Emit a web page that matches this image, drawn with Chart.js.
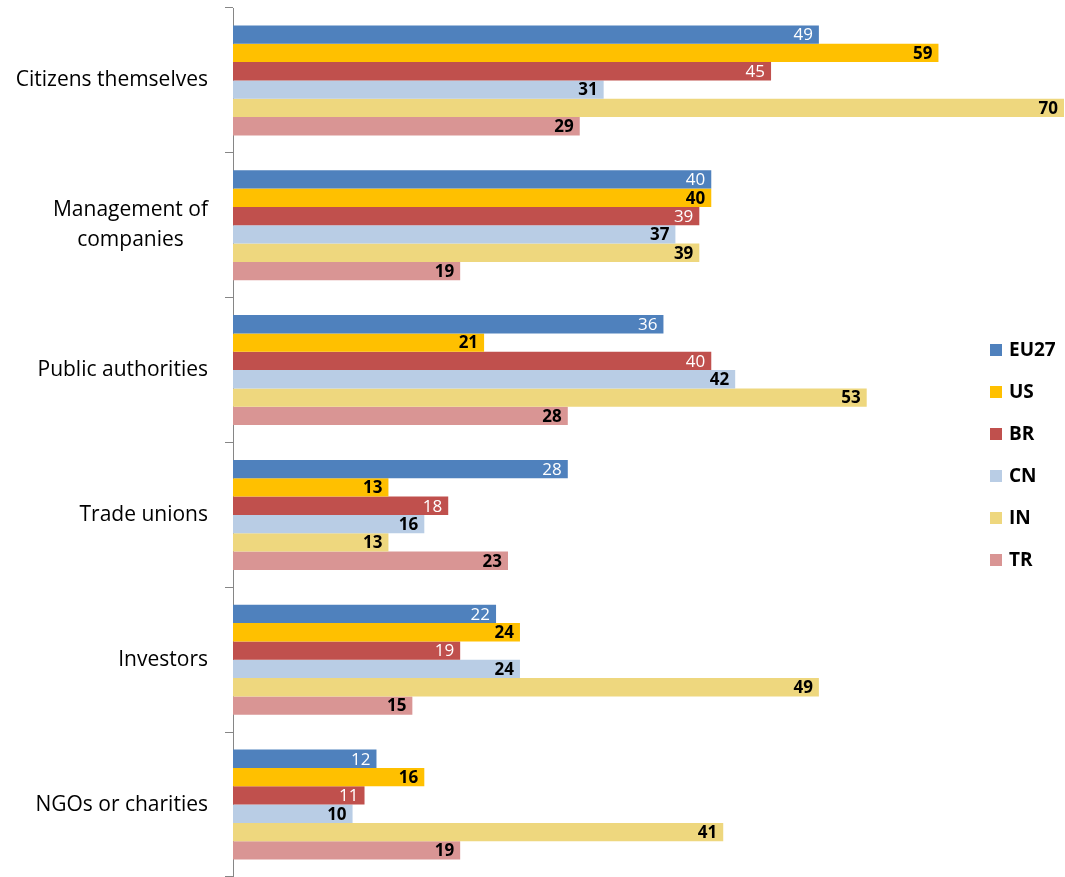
<!DOCTYPE html>
<html>
<head>
<meta charset="utf-8">
<script src="https://cdn.jsdelivr.net/npm/chart.js@4"></script>
<style>
  body { margin: 0; background: #fff; }
  #wrap { position: relative; width: 1065px; height: 877px; }
  #legend { position: absolute; left: 990px; top: 336px; font: bold 19px "Open Sans", sans-serif; color: #000; }
  #legend div { height: 42px; display: flex; align-items: flex-start; }
  #legend span.sw { display: inline-block; width: 12px; height: 12px; margin: 8px 7px 0 0; }
</style>
</head>
<body>
<div id="wrap">
  <canvas id="chart" width="1065" height="877"></canvas>
  <div id="legend"></div>
</div>
<script>
const categories = [['Citizens themselves'], ['Management of', 'companies'], ['Public authorities'], ['Trade unions'], ['Investors'], ['NGOs or charities']];
const seriesNames = ['EU27', 'US', 'BR', 'CN', 'IN', 'TR'];
const eu27 = [49, 40, 36, 28, 22, 12];
const us = [59, 40, 21, 13, 24, 16];
const br = [45, 39, 40, 18, 19, 11];
const cn = [31, 37, 42, 16, 24, 10];
const ind = [70, 39, 53, 13, 49, 41];
const tr = [29, 19, 28, 23, 15, 19];

const colors = ['#4F81BD', '#FFC000', '#C0504D', '#B9CDE5', '#EED77E', '#D99594'];
const labelColors = ['#fff', '#000', '#fff', '#000', '#000', '#000'];
const values = [eu27, us, br, cn, ind, tr];

// value labels inside the end of each bar
const valueLabels = {
  id: 'valueLabels',
  afterDatasetsDraw(chart) {
    const ctx = chart.ctx;
    ctx.save();
    ctx.textAlign = 'right';
    ctx.textBaseline = 'middle';
    chart.data.datasets.forEach((ds, i) => {
      const white = labelColors[i] === '#fff';
      ctx.font = (white ? '' : 'bold ') + '17px "Open Sans", sans-serif';
      ctx.fillStyle = labelColors[i];
      chart.getDatasetMeta(i).data.forEach((bar, j) => {
        ctx.fillText(String(ds.data[j]), Math.min(bar.x, chart.chartArea.right) - 6, bar.y + 1);
      });
    });
    ctx.restore();
  }
};

// category labels, lines centred on each other, block right-aligned
const catLabels = {
  id: 'catLabels',
  afterDraw(chart) {
    const ctx = chart.ctx;
    const yScale = chart.scales.y;
    ctx.save();
    ctx.font = '21px "Open Sans", sans-serif';
    ctx.fillStyle = '#000';
    ctx.textAlign = 'center';
    ctx.textBaseline = 'middle';
    const right = 208, lh = 30;
    categories.forEach((lines, i) => {
      const w = Math.max(...lines.map(l => ctx.measureText(l).width));
      const cx = right - w / 2;
      const cy = yScale.getPixelForValue(i);
      lines.forEach((l, k) => {
        ctx.fillText(l, cx, cy + (k - (lines.length - 1) / 2) * lh);
      });
    });
    ctx.restore();
  }
};

const myChart = new Chart(document.getElementById('chart'), {
  type: 'bar',
  data: {
    labels: categories.map(c => c.join(' ')),
    datasets: seriesNames.map((name, i) => ({
      label: name,
      data: values[i],
      backgroundColor: colors[i],
      borderWidth: 0,
      barPercentage: 1.0,
      categoryPercentage: 0.76
    }))
  },
  plugins: [valueLabels, catLabels],
  options: {
    indexAxis: 'y',
    responsive: false,
    animation: false,
    layout: { padding: { top: 8, right: 1, bottom: 0, left: 0 } },
    scales: {
      x: {
        display: false,
        min: 0,
        max: 69.5
      },
      y: {
        afterFit(scale) { scale.width = 233; },
        grid: {
          offset: true,
          drawOnChartArea: false,
          color: '#868686',
          tickLength: 8
        },
        border: { color: '#868686', width: 1 },
        ticks: { display: false }
      }
    },
    plugins: {
      legend: { display: false },
      tooltip: { enabled: false }
    }
  }
});

const legend = document.getElementById('legend');
seriesNames.forEach((name, i) => {
  const row = document.createElement('div');
  row.innerHTML = '<span class="sw" style="background:' + colors[i] + '"></span>' + name;
  legend.appendChild(row);
});
</script>
</body>
</html>
